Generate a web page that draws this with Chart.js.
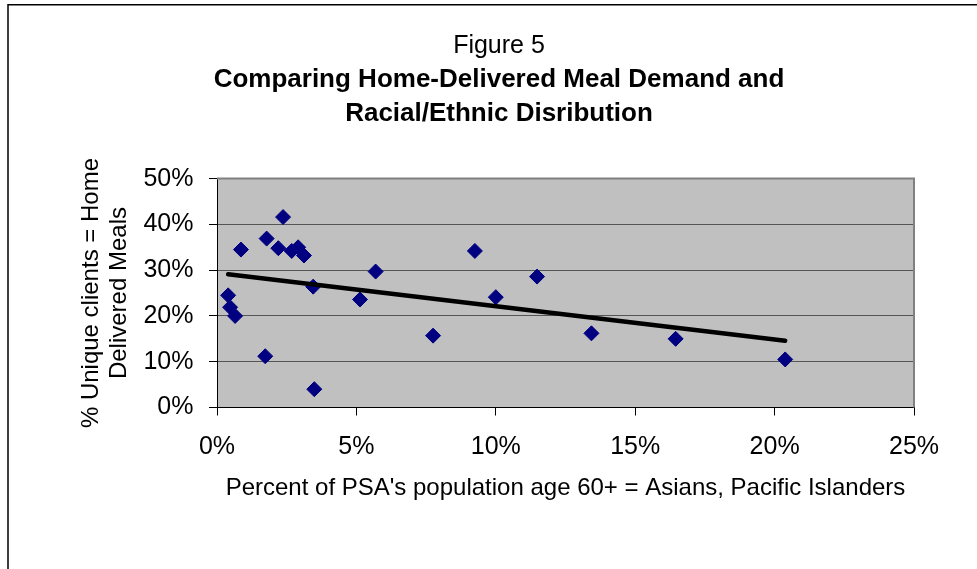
<!DOCTYPE html>
<html>
<head>
<meta charset="utf-8">
<script src="https://cdn.jsdelivr.net/npm/chart.js@4/dist/chart.umd.min.js"></script>
<style>
  html, body { margin: 0; padding: 0; background: #fff; overflow: hidden; }
  canvas { display: block; }
</style>
</head>
<body>
<canvas id="chart" width="977" height="569"></canvas>
<script>
// Share of a PSA's 60+ population that is Asian / Pacific Islander (%)
const asianPacificPct = [0.40, 0.47, 0.65, 0.86, 1.73, 1.78, 2.37, 2.20, 2.68, 2.91, 3.12,
                         3.45, 3.49, 5.13, 5.69, 7.75, 9.25, 10.00, 11.48, 13.43, 16.45, 20.38];
// Share of unique clients who receive home-delivered meals (%)
const homeDeliveredPct = [24.5, 21.9, 20.0, 34.5, 11.2, 36.9, 41.6, 34.8, 34.2, 35.0, 33.2,
                          26.4, 4.0, 23.6, 29.7, 15.7, 34.2, 24.1, 28.6, 16.2, 15.0, 10.5];

const xTickValues = [0, 5, 10, 15, 20, 25];
const yTickValues = [0, 10, 20, 30, 40, 50];

const titleText = 'Figure 5';
const subtitleLines = ['Comparing Home-Delivered Meal Demand and', 'Racial/Ethnic Disribution'];
const xAxisTitle = "Percent of PSA's population age 60+ = Asians, Pacific Islanders";
const yAxisTitle = ['% Unique clients = Home', 'Delivered Meals'];

const points = asianPacificPct.map((x, i) => ({ x: x, y: homeDeliveredPct[i] }));

// Least-squares linear trend across the observed range
const n = points.length;
const mx = asianPacificPct.reduce((a, b) => a + b, 0) / n;
const my = homeDeliveredPct.reduce((a, b) => a + b, 0) / n;
let sxy = 0, sxx = 0;
points.forEach(p => { sxy += (p.x - mx) * (p.y - my); sxx += (p.x - mx) * (p.x - mx); });
const slope = sxy / sxx;
const intercept = my - slope * mx;
const xMin = Math.min(...asianPacificPct), xMax = Math.max(...asianPacificPct);
const trend = [xMin, xMax].map(x => ({ x: x, y: intercept + slope * x }));

const FONT = "'Liberation Sans', Arial, Helvetica, sans-serif";

const framePlugin = {
  id: 'frame',
  beforeDraw(chart) {
    const { ctx, chartArea: a } = chart;
    ctx.save();
    ctx.fillStyle = '#fff';
    ctx.fillRect(0, 0, chart.width, chart.height);
    ctx.strokeStyle = '#000';
    ctx.lineWidth = 1.5;
    ctx.strokeRect(8, 4.75, 1100, 1100);
    ctx.fillStyle = '#c0c0c0';
    ctx.fillRect(a.left, a.top, a.right - a.left, a.bottom - a.top);
    ctx.restore();
  },
  beforeDatasetsDraw(chart) {
    const { ctx, chartArea: a } = chart;
    ctx.save();
    ctx.strokeStyle = '#808080';
    ctx.lineWidth = 2;
    ctx.beginPath();
    ctx.moveTo(a.left, a.top);
    ctx.lineTo(a.right, a.top);
    ctx.lineTo(a.right, a.bottom);
    ctx.stroke();
    ctx.restore();
  }
};

new Chart(document.getElementById('chart'), {
  type: 'scatter',
  data: {
    datasets: [
      {
        data: trend,
        showLine: true,
        borderColor: '#000',
        borderWidth: 4.5,
        borderCapStyle: 'round',
        pointRadius: 0,
        order: 0
      },
      {
        data: points,
        pointStyle: 'rectRot',
        pointRadius: 7.5,
        backgroundColor: '#000080',
        borderColor: '#000080',
        borderWidth: 1,
        order: 1
      }
    ]
  },
  options: {
    responsive: false,
    animation: false,
    devicePixelRatio: 1,
    layout: { padding: { left: 21, right: 0, top: 0, bottom: 0 } },
    plugins: {
      legend: { display: false },
      tooltip: { enabled: false },
      title: {
        display: true,
        text: titleText,
        color: '#000',
        font: { family: FONT, size: 25, weight: 'normal', lineHeight: 1.2 },
        padding: { top: 31, bottom: 0 }
      },
      subtitle: {
        display: true,
        text: subtitleLines,
        color: '#000',
        font: { family: FONT, size: 26, weight: 'bold', lineHeight: 1.31 },
        padding: { top: 2, bottom: 47.5 }
      }
    },
    scales: {
      x: {
        type: 'linear',
        min: 0,
        max: 25,
        afterBuildTicks: s => { s.ticks = xTickValues.map(v => ({ value: v })); },
        afterFit: s => { s.height = 161.5; },
        ticks: {
          color: '#000',
          padding: 17,
          font: { family: FONT, size: 25 },
          callback: v => v + '%'
        },
        grid: { drawOnChartArea: false, tickLength: 8, tickColor: '#000' },
        border: { color: '#000', width: 1 },
        title: {
          display: true,
          text: xAxisTitle,
          color: '#000',
          font: { family: FONT, size: 24, lineHeight: 1.2 },
          padding: { top: 0, bottom: 66 }
        }
      },
      y: {
        type: 'linear',
        min: 0,
        max: 50,
        afterBuildTicks: s => { s.ticks = yTickValues.map(v => ({ value: v })); },
        afterFit: s => { s.width = 196; },
        ticks: {
          color: '#000',
          padding: 15.5,
          font: { family: FONT, size: 25 },
          callback: v => v + '%'
        },
        grid: { color: '#555', lineWidth: 1, tickLength: 8, tickColor: '#000' },
        border: { color: '#000', width: 1 },
        title: {
          display: true,
          text: yAxisTitle,
          color: '#000',
          font: { family: FONT, size: 24, lineHeight: 1.1667 },
          padding: { top: 56, bottom: 0 }
        }
      },
      yRight: {
        axis: 'y',
        position: 'right',
        display: true,
        min: 0,
        max: 1,
        ticks: { display: false },
        grid: { display: false },
        border: { display: false },
        afterFit: s => { s.width = 63; }
      }
    }
  },
  plugins: [framePlugin]
});
</script>
</body>
</html>
